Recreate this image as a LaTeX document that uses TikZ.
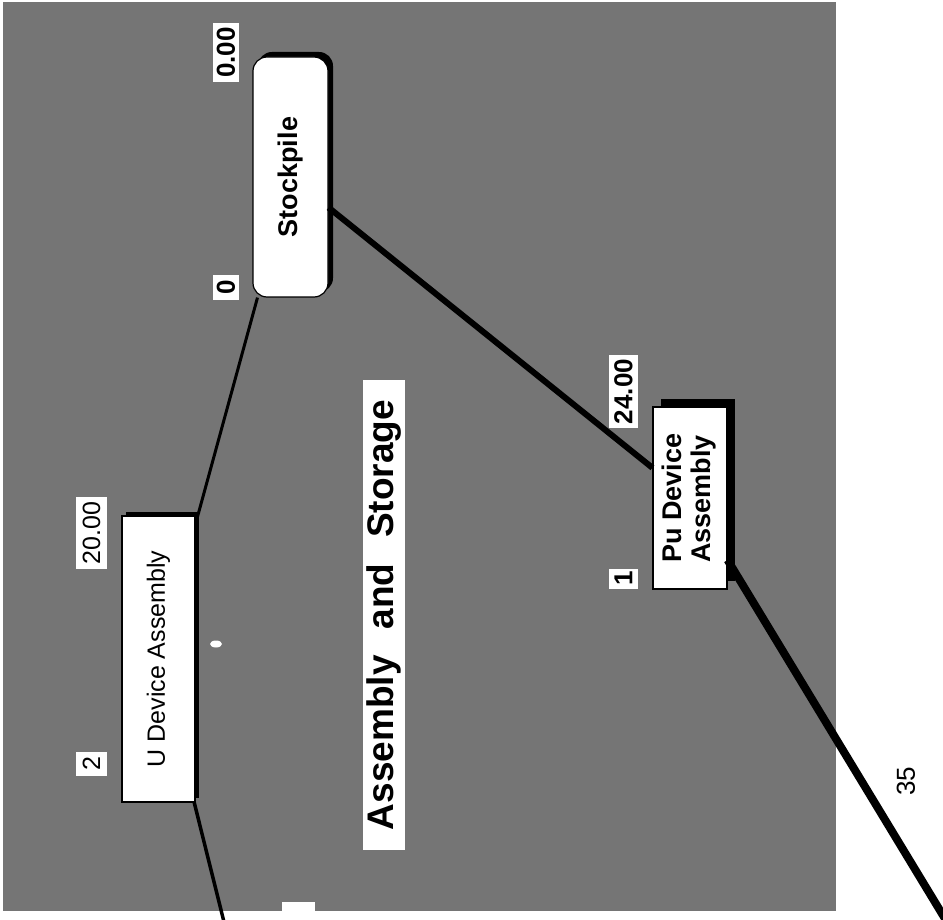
\documentclass[tikz,border=0pt]{standalone}
\usepackage{fontspec}
\setmainfont{Liberation Sans}
\usetikzlibrary{shadows}

\definecolor{panelgray}{gray}{0.46}

\tikzset{
  unitbox/.style={draw=black, line width=1.2pt, fill=white, inner sep=0pt,
    drop shadow={fill=black, opacity=1, shadow xshift=#1, shadow yshift=#1}},
  tag/.style={fill=white, inner sep=0pt},
}

\begin{document}
\begin{tikzpicture}[x=1pt,y=-1pt]
    \useasboundingbox (0,0) rectangle (943,920);
    \fill[panelgray] (3,2) rectangle (836,911);
    % units
    \node[unitbox=5pt, rounded corners=14pt, minimum width=75pt, minimum height=240pt,
          font=\fontsize{27}{29}\bfseries] (stock) at (290.5,177) {\rotatebox{90}{Stockpile}};
    \node[unitbox=8pt, minimum width=74pt, minimum height=182pt,
          font=\fontsize{27}{29}\bfseries] (pu) at (690,498)
          {\rotatebox{90}{\begin{tabular}{@{}l@{}}Pu Device\\Assembly\end{tabular}}};
    \node[unitbox=4pt, minimum width=73pt, minimum height=286pt,
          font=\fontsize{25}{27}\selectfont] (u) at (158.5,659) {\rotatebox{90}{U Device Assembly}};
    % tags
    \node[tag, minimum width=26pt, minimum height=59pt, font=\fontsize{26}{28}\bfseries] (stocktime) at (226,52.5) {\rotatebox{90}{0.00}};
    \node[tag, minimum width=26pt, minimum height=25pt, font=\fontsize{26}{28}\bfseries] (stockno) at (226,287.5) {\rotatebox{90}{0}};
    \node[tag, minimum width=29pt, minimum height=73pt, font=\fontsize{26}{28}\bfseries] (putime) at (623.5,391.5) {\rotatebox{90}{24.00}};
    \node[tag, minimum width=29pt, minimum height=20pt, font=\fontsize{26}{28}\bfseries] (puno) at (623.5,578.5) {\rotatebox{90}{1}};
    \node[tag, minimum width=31pt, minimum height=72pt, font=\fontsize{25}{27}\selectfont] (utime) at (91.5,533) {\rotatebox{90}{20.00}};
    \node[tag, minimum width=31pt, minimum height=24pt, font=\fontsize{25}{27}\selectfont] (uno) at (91.5,764) {\rotatebox{90}{2}};
    % title
    \node[tag, minimum width=42pt, minimum height=470pt, font=\fontsize{37}{40}\bfseries] (title) at (384,615)
          {\rotatebox{90}{Assembly\hspace{0.7em}and\hspace{0.7em}Storage}};
    \node[rotate=90, font=\fontsize{26}{28}\selectfont] (pagenum) at (906,781) {35};
    \fill[white] (216,644) ellipse (6 and 3.5);
    \fill[white] (282,902) rectangle (315,912);
    % links
    \coordinate (uout) at (224,922);
    \coordinate (puout) at (947,922);
    \draw[line width=6pt] (stock) -- (pu);
    \draw[line width=3pt] (stock) -- (u);
    \draw[line width=3.5pt] (u) -- (uout);
    \draw[line width=8pt] (pu) -- (puout);
\end{tikzpicture}
\end{document}
